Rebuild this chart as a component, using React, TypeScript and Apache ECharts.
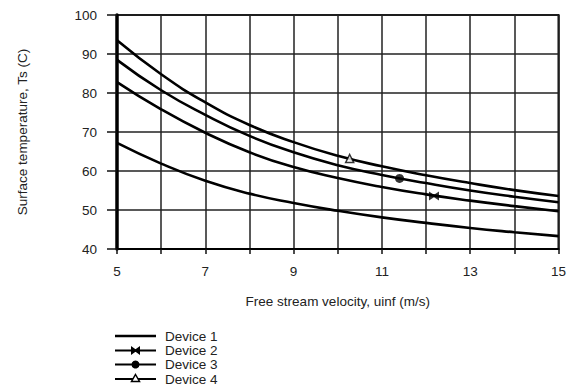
import React, { useEffect, useRef } from "react";
import * as echarts from "echarts";

// Free stream velocity (m/s)
const velocities = [5, 6, 7, 8, 9, 10, 11, 12, 13, 14, 15];

// Surface temperature Ts (C) per device
const device1 = [67.2, 61.9, 57.5, 54.2, 51.8, 49.8, 48.1, 46.7, 45.4, 44.3, 43.3];
const device2 = [82.8, 75.8, 69.8, 64.8, 61.0, 58.2, 55.9, 54.0, 52.4, 51.0, 49.7];
const device3 = [88.5, 80.7, 74.4, 69.0, 64.8, 61.5, 59.0, 56.9, 55.0, 53.4, 52.0];
const device4 = [93.5, 84.8, 77.6, 71.8, 67.4, 63.9, 61.2, 58.9, 56.9, 55.1, 53.6];

// single marker shown on each of devices 2-4 [velocity, temperature]
const device2Marker = [12.18, 53.6];
const device3Marker = [11.4, 58.1];
const device4Marker = [10.27, 63.2];

const seriesNames = ["Device 1", "Device 2", "Device 3", "Device 4"];
const xTickLabels = [5, 7, 9, 11, 13, 15];

const FONT = "'Liberation Sans', Arial, sans-serif";
const TEXT = "#222";
const FS = 13.5;

const bowtie = "path://M0,0L5,3.6L10,0L10,10L5,6.4L0,10Z";

export default function App() {
  const ref = useRef<HTMLDivElement>(null);

  useEffect(() => {
    if (!ref.current) return;
    const chart = echarts.init(ref.current, null, { renderer: "svg" });
    const pair = (arr: number[]) => velocities.map((v, i) => [v, arr[i]]);
    const lineSeries = (name: string, arr: number[]) => ({
      name,
      type: "line",
      data: pair(arr),
      smooth: true,
      symbol: "none",
      lineStyle: { color: "#000", width: 2.6 },
      z: 3,
    });

    const legendYs = [336, 350.5, 364.5, 379];
    const legendGraphics: any[] = [];
    seriesNames.forEach((n, i) => {
      const y = legendYs[i];
      legendGraphics.push({
        type: "line",
        shape: { x1: 115, y1: y, x2: 156, y2: y },
        style: { stroke: "#000", lineWidth: i === 0 ? 2.6 : 2.2 },
      });
      legendGraphics.push({
        type: "text",
        x: 165,
        y,
        style: { text: n, fill: TEXT, font: `${FS}px ${FONT}`, verticalAlign: "middle" },
      });
    });
    legendGraphics.push({
      type: "polygon",
      shape: { points: [[131, y2(legendYs[1]) - 4.5], [135.5, legendYs[1] - 1.2], [140, legendYs[1] - 4.5], [140, legendYs[1] + 4.5], [135.5, legendYs[1] + 1.2], [131, legendYs[1] + 4.5]] },
      style: { fill: "#000" },
    });
    legendGraphics.push({
      type: "circle",
      shape: { cx: 135.5, cy: legendYs[2], r: 4 },
      style: { fill: "#000" },
    });
    legendGraphics.push({
      type: "polygon",
      shape: { points: [[135.5, legendYs[3] - 4.5], [139.5, legendYs[3] + 2.5], [131.5, legendYs[3] + 2.5]] },
      style: { fill: "#fff", stroke: "#000", lineWidth: 1.5 },
      z: 10,
    });

    function y2(v: number) {
      return v;
    }

    chart.setOption({
      animation: false,
      backgroundColor: "#fff",
      grid: {
        left: 117,
        right: 7,
        top: 15,
        bottom: 139,
        show: true,
        borderColor: "#111",
        borderWidth: 2,
        backgroundColor: "transparent",
      },
      xAxis: {
        type: "value",
        min: 5,
        max: 15,
        interval: 1,
        name: "Free stream velocity, uinf (m/s)",
        nameLocation: "middle",
        nameGap: 45,
        nameTextStyle: { color: TEXT, fontSize: FS, fontFamily: FONT },
        axisLine: { show: true, lineStyle: { color: "#000", width: 2 } },
        axisTick: { show: true, length: 5, lineStyle: { color: "#111", width: 1.5 } },
        axisLabel: {
          color: TEXT,
          fontSize: FS,
          fontFamily: FONT,
          margin: 15,
          formatter: (v: number) => (xTickLabels.includes(v) ? String(v) : ""),
        },
        splitLine: { show: true, lineStyle: { color: "#222", width: 1.5 } },
      },
      yAxis: {
        type: "value",
        min: 40,
        max: 100,
        interval: 10,
        name: "Surface temperature, Ts (C)",
        nameLocation: "middle",
        nameGap: 88,
        nameTextStyle: { color: TEXT, fontSize: FS, fontFamily: FONT },
        axisLine: { show: true, lineStyle: { color: "#000", width: 3.5 } },
        axisTick: { show: true, length: 10, lineStyle: { color: "#111", width: 1.5 } },
        axisLabel: { color: TEXT, fontSize: FS, fontFamily: FONT, margin: 20 },
        splitLine: { show: true, lineStyle: { color: "#222", width: 1.5 } },
      },
      series: [
        lineSeries(seriesNames[0], device1),
        lineSeries(seriesNames[1], device2),
        lineSeries(seriesNames[2], device3),
        lineSeries(seriesNames[3], device4),
        {
          name: seriesNames[1] + " marker",
          type: "scatter",
          data: [device2Marker],
          symbol: bowtie,
          symbolSize: [10, 9],
          itemStyle: { color: "#000" },
          z: 4,
        },
        {
          name: seriesNames[2] + " marker",
          type: "scatter",
          data: [device3Marker],
          symbol: "circle",
          symbolSize: 9,
          itemStyle: { color: "#000" },
          z: 4,
        },
        {
          name: seriesNames[3] + " marker",
          type: "scatter",
          data: [device4Marker],
          symbol: "triangle",
          symbolSize: 8,
          itemStyle: { color: "#fff", borderColor: "#000", borderWidth: 1.5 },
          z: 4,
        },
      ],
      graphic: legendGraphics,
    });
    return () => chart.dispose();
  }, []);

  return <div ref={ref} style={{ width: 569, height: 388, position: "absolute", left: 0, top: 0 }} />;
}
